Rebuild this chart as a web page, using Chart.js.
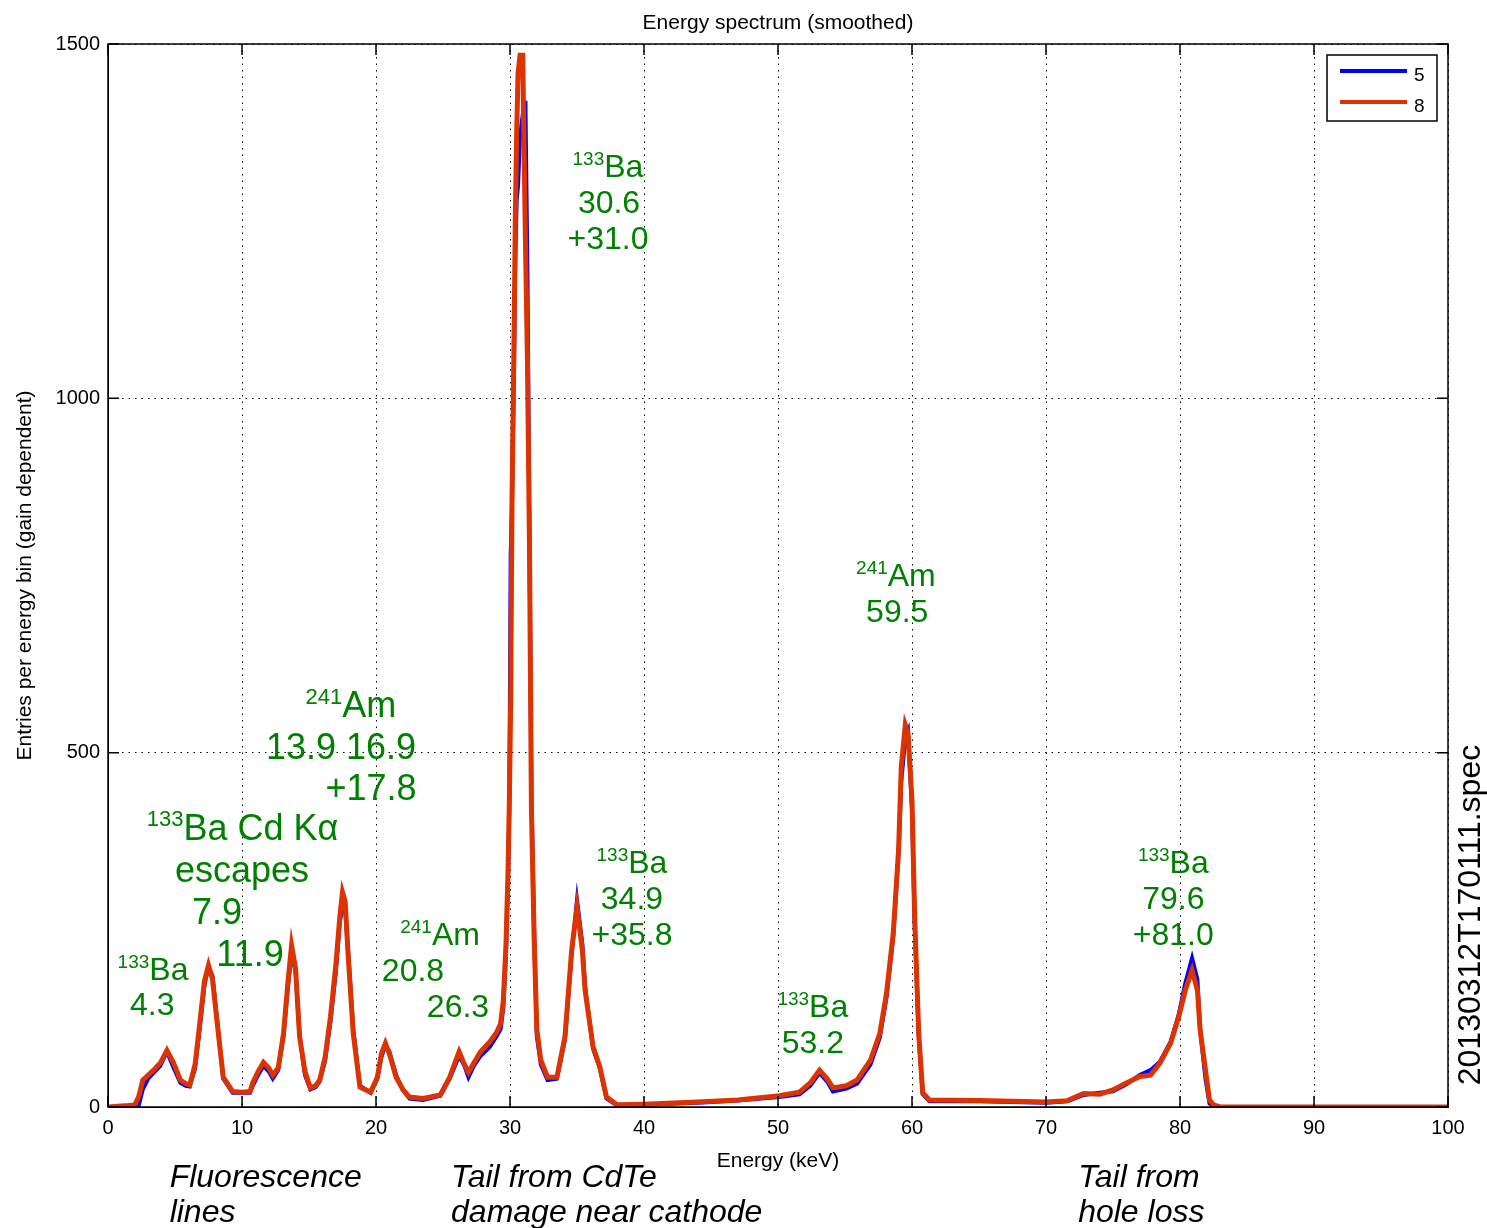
<!DOCTYPE html>
<html>
<head>
<meta charset="utf-8">
<title>Energy spectrum (smoothed)</title>
<script src="https://cdn.jsdelivr.net/npm/chart.js@4.4.1/dist/chart.umd.min.js"></script>
<style>
  html, body { margin: 0; padding: 0; background: #fff; }
  #wrap { width: 1487px; height: 1228px; position: relative; }
</style>
</head>
<body>
<div id="wrap"><canvas id="spec"></canvas></div>
<script>
// Energy spectrum (smoothed) - two runs, 5 and 8

// energy points (keV), denser where the peaks are
const energy = [
  0, 1.5, 2.0, 2.3, 2.6, 3.0, 3.4, 3.9, 4.4, 4.9, 5.4, 5.8, 6.1, 6.5, 6.9, 7.2, 7.5, 7.8, 8.1, 8.6,
  9.3, 10.0, 10.6, 10.8, 11.2, 11.6, 12.0, 12.3, 12.7, 13.1, 13.4, 13.7, 14.0, 14.3, 14.7, 15.1, 15.5, 15.8,
  16.2, 16.6, 17.0, 17.3, 17.5, 17.7, 17.9, 18.3, 18.8, 19.6, 20.1, 20.4, 20.7, 21.0, 21.5, 22.0, 22.5,
  23.5, 24.8, 25.5, 26.2, 26.6, 26.9, 27.3, 27.8, 28.5, 29.0, 29.3, 29.5, 29.7, 29.85, 29.95, 30.05,
  30.15, 30.3, 30.4, 30.5, 30.6, 30.75, 30.95, 31.15, 31.3, 31.45, 31.6, 31.8, 32.0, 32.3, 32.8, 33.5,
  34.1, 34.6, 35.0, 35.4, 35.6, 36.2, 36.7, 37.2, 38.0, 40, 44, 47, 50.1, 51.6, 52.4, 53.1, 53.7, 54.1,
  55.1, 55.9, 56.9, 57.6, 58.1, 58.6, 59.0, 59.2, 59.5, 59.7, 60.0, 60.2, 60.5, 60.8, 61.3, 65, 70,
  71.6, 72.8, 74.0, 75.0, 76.0, 77.0, 77.8, 78.5, 79.3, 79.9, 80.4, 80.9, 81.3, 81.5, 81.9, 82.2, 82.5,
  83, 90, 100
];

// entries per bin, run "5" (blue)
const run5 = [
  0, 0, 0, 3, 25, 40, 48, 58, 78, 55, 34, 30, 29, 55, 120, 172, 198, 185, 130, 40,
  20, 20, 20, 30, 45, 58, 50, 40, 52, 100, 165, 218, 190, 100, 45, 25, 28, 36,
  65, 120, 190, 260, 285, 280, 225, 110, 30, 20, 40, 70, 88, 78, 45, 24, 12,
  10, 16, 40, 72, 58, 42, 58, 72, 85, 100, 110, 140, 215, 320, 420, 780,
  850, 1050, 1200, 1280, 1300, 1370, 1400, 1420, 1180, 820, 440, 250, 100, 60, 38, 40,
  95, 215, 292, 230, 170, 82, 55, 12, 2, 3, 6, 9, 14, 18, 30, 48, 35, 22,
  26, 33, 60, 98, 155, 240, 360, 460, 520, 530, 420, 260, 100, 18, 8, 8, 6,
  8, 17, 20, 22, 32, 45, 52, 64, 92, 130, 175, 210, 180, 110, 40, 5, 1,
  0, 0, 0
];

// entries per bin, run "8" (red)
const run8 = [
  0, 2, 3, 15, 38, 45, 52, 62, 80, 62, 38, 33, 31, 60, 127, 178, 200, 180, 127, 42,
  22, 21, 22, 34, 50, 63, 55, 45, 55, 104, 170, 228, 195, 99, 50, 27, 30, 38,
  70, 127, 200, 268, 303, 290, 221, 104, 28, 21, 42, 75, 90, 75, 42, 25, 14,
  12, 17, 42, 78, 60, 49, 62, 78, 92, 105, 118, 150, 230, 330, 430, 570,
  860, 1080, 1260, 1375, 1458, 1484, 1484, 1225, 1055, 800, 420, 240, 110, 66, 42, 42,
  99, 221, 282, 221, 165, 85, 57, 14, 3, 4, 7, 10, 16, 21, 34, 52, 39, 27,
  30, 38, 66, 104, 161, 245, 363, 480, 539, 528, 433, 268, 104, 20, 10, 9, 7,
  9, 19, 18, 24, 34, 43, 45, 62, 90, 127, 165, 193, 165, 109, 52, 10, 3,
  0, 0, 0
];

const xTicks = [0, 10, 20, 30, 40, 50, 60, 70, 80, 90, 100];
const yTicks = [0, 500, 1000, 1500];

// green peak labels: [keV, entries, font size, superscript, text]
const peakLabels = [
  [3.36, 179, 32, '133', 'Ba'],
  [3.3, 130, 32, '', '4.3'],
  [10.04, 377, 36, '133', 'Ba Cd K\u03b1'],
  [10.0, 317, 36, '', 'escapes'],
  [8.13, 258, 36, '', '7.9'],
  [10.6, 199, 36, '', '11.9'],
  [18.13, 550, 36, '241', 'Am'],
  [17.39, 491, 36, '', '13.9 16.9'],
  [19.63, 433, 36, '', '+17.8'],
  [24.78, 229, 32, '241', 'Am'],
  [22.76, 178, 32, '', '20.8'],
  [26.12, 127, 32, '', '26.3'],
  [37.31, 1312, 32, '133', 'Ba'],
  [37.39, 1262, 32, '', '30.6'],
  [37.31, 1211, 32, '', '+31.0'],
  [39.1, 330, 32, '133', 'Ba'],
  [39.1, 279, 32, '', '34.9'],
  [39.1, 229, 32, '', '+35.8'],
  [52.6, 127, 32, '133', 'Ba'],
  [52.6, 76, 32, '', '53.2'],
  [58.8, 735, 32, '241', 'Am'],
  [58.9, 684, 32, '', '59.5'],
  [79.5, 330, 32, '133', 'Ba'],
  [79.5, 279, 32, '', '79.6'],
  [79.5, 229, 32, '', '+81.0']
];

// italic notes under the axis: [keV of left edge, line 1, line 2]
const bottomNotes = [
  [4.6, 'Fluorescence', 'lines'],
  [25.6, 'Tail from CdTe', 'damage near cathode'],
  [72.4, 'Tail from', 'hole loss']
];

const FONT = "'Liberation Sans', Arial, Helvetica, sans-serif";
const GREEN = '#008000';
const BLUE = '#0000ff';
const RED = '#dd3300';

function toPoints(ys) {
  return energy.map(function (e, i) { return { x: e, y: ys[i] }; });
}

function drawSup(ctx, x, y, sup, text, size) {
  var supSize = Math.round(size * 0.6);
  ctx.font = supSize + 'px ' + FONT;
  var w1 = sup ? ctx.measureText(sup).width : 0;
  ctx.font = size + 'px ' + FONT;
  var w2 = ctx.measureText(text).width;
  var left = x - (w1 + w2) / 2;
  if (sup) {
    ctx.font = supSize + 'px ' + FONT;
    ctx.fillText(sup, left, y - size * 0.38);
  }
  ctx.font = size + 'px ' + FONT;
  ctx.fillText(text, left + w1, y);
}

// box, inward ticks, titles
const frame = {
  id: 'frame',
  afterDraw: function (chart) {
    const ctx = chart.ctx;
    const a = chart.chartArea;
    const xs = chart.scales.x;
    const ys = chart.scales.y;
    const tl = 11;
    ctx.save();
    ctx.strokeStyle = '#000';
    ctx.lineWidth = 1.5;
    ctx.setLineDash([]);
    ctx.strokeRect(a.left, a.top, a.right - a.left, a.bottom - a.top);
    ctx.beginPath();
    xTicks.forEach(function (v) {
      var px = xs.getPixelForValue(v);
      ctx.moveTo(px, a.bottom); ctx.lineTo(px, a.bottom - tl);
      ctx.moveTo(px, a.top); ctx.lineTo(px, a.top + tl);
    });
    yTicks.forEach(function (v) {
      var py = ys.getPixelForValue(v);
      ctx.moveTo(a.left, py); ctx.lineTo(a.left + tl, py);
      ctx.moveTo(a.right, py); ctx.lineTo(a.right - tl, py);
    });
    ctx.stroke();

    ctx.fillStyle = '#000';
    ctx.font = '21px ' + FONT;
    ctx.textAlign = 'center';
    ctx.textBaseline = 'alphabetic';
    ctx.fillText('Energy spectrum (smoothed)', (a.left + a.right) / 2, a.top - 15);
    ctx.fillText('Energy (keV)', (a.left + a.right) / 2, a.bottom + 60);

    ctx.save();
    ctx.translate(a.left - 83, (a.top + a.bottom) / 2);
    ctx.rotate(-Math.PI / 2);
    ctx.textBaseline = 'middle';
    ctx.fillText('Entries per energy bin (gain dependent)', 0, 0);
    ctx.restore();

    ctx.save();
    ctx.translate(a.right + 23, a.bottom - 192);
    ctx.rotate(-Math.PI / 2);
    ctx.font = '32px ' + FONT;
    ctx.textBaseline = 'middle';
    ctx.fillText('20130312T170111.spec', 0, 0);
    ctx.restore();

    ctx.font = 'italic 32px ' + FONT;
    ctx.textAlign = 'left';
    bottomNotes.forEach(function (n) {
      var px = xs.getPixelForValue(n[0]);
      ctx.fillText(n[1], px, a.bottom + 80);
      ctx.fillText(n[2], px, a.bottom + 115);
    });
    ctx.restore();
  }
};

const peakText = {
  id: 'peakText',
  afterDatasetsDraw: function (chart) {
    const ctx = chart.ctx;
    const xs = chart.scales.x;
    const ys = chart.scales.y;
    ctx.save();
    ctx.fillStyle = GREEN;
    ctx.textAlign = 'left';
    ctx.textBaseline = 'alphabetic';
    peakLabels.forEach(function (p) {
      drawSup(ctx, xs.getPixelForValue(p[0]), ys.getPixelForValue(p[1]), p[3], p[4], p[2]);
    });
    ctx.restore();
  }
};

const legendBox = {
  id: 'legendBox',
  afterDraw: function (chart) {
    const ctx = chart.ctx;
    const a = chart.chartArea;
    const w = 110, h = 66;
    const left = a.right - 11 - w;
    const top = a.top + 11;
    ctx.save();
    ctx.fillStyle = '#fff';
    ctx.fillRect(left, top, w, h);
    ctx.strokeStyle = '#000';
    ctx.lineWidth = 1.5;
    ctx.strokeRect(left, top, w, h);
    const items = chart.data.datasets;
    items.forEach(function (ds, i) {
      var y = top + 16 + i * 31;
      ctx.strokeStyle = ds.borderColor;
      ctx.lineWidth = 4;
      ctx.beginPath();
      ctx.moveTo(left + 13, y);
      ctx.lineTo(left + 80, y);
      ctx.stroke();
      ctx.fillStyle = '#000';
      ctx.font = '19px ' + FONT;
      ctx.textBaseline = 'middle';
      ctx.fillText(ds.label, left + 87, y + 5);
    });
    ctx.restore();
  }
};

const ctx = document.getElementById('spec').getContext('2d');
new Chart(ctx, {
  type: 'line',
  data: {
    datasets: [
      { label: '5', data: toPoints(run5), borderColor: BLUE, borderWidth: 4, order: 1 },
      { label: '8', data: toPoints(run8), borderColor: RED, borderWidth: 5, order: 0 }
    ]
  },
  options: {
    animation: false,
    responsive: true,
    maintainAspectRatio: false,
    layout: { padding: { top: 44, right: 39, left: 0, bottom: 0 } },
    elements: {
      point: { radius: 0 },
      line: { tension: 0, fill: false, borderJoinStyle: 'miter' }
    },
    plugins: {
      legend: { display: false },
      tooltip: { enabled: false },
      title: { display: false }
    },
    scales: {
      x: {
        type: 'linear',
        min: 0,
        max: 100,
        afterFit: function (s) { s.height = 121; },
        afterBuildTicks: function (s) { s.ticks = xTicks.map(function (v) { return { value: v }; }); },
        ticks: {
          color: '#000', font: { family: FONT, size: 20 }, padding: 9, maxRotation: 0, autoSkip: false,
          callback: function (v) { return String(v); }
        },
        grid: { color: '#000', lineWidth: 1, drawTicks: false },
        border: { display: true, color: '#000', width: 1, dash: [1.5, 5] }
      },
      y: {
        min: 0,
        max: 1500,
        afterFit: function (s) { s.width = 108; },
        afterBuildTicks: function (s) { s.ticks = yTicks.map(function (v) { return { value: v }; }); },
        ticks: {
          color: '#000', font: { family: FONT, size: 20 }, padding: 8,
          callback: function (v) { return String(v); }
        },
        grid: { color: '#000', lineWidth: 1, drawTicks: false },
        border: { display: true, color: '#000', width: 1, dash: [1.5, 5] }
      }
    }
  },
  plugins: [peakText, frame, legendBox]
});
</script>
</body>
</html>
